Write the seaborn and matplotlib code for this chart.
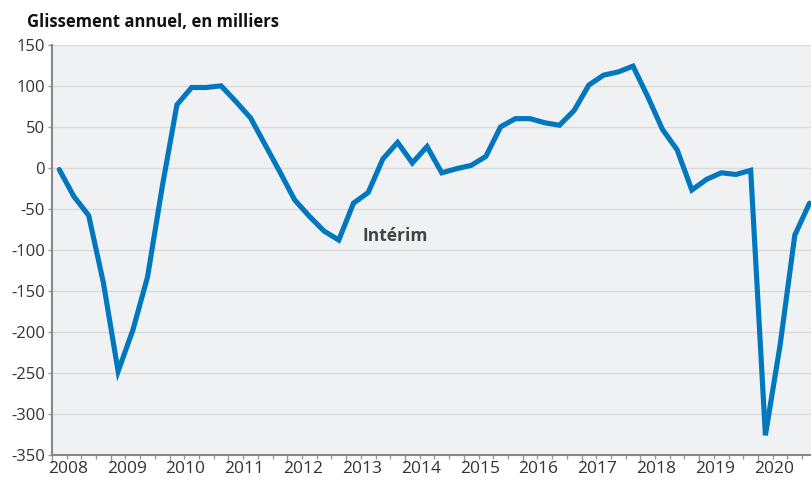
import matplotlib
matplotlib.use("Agg")
import matplotlib.pyplot as plt
import matplotlib.transforms as mtransforms
import numpy as np
import pandas as pd
import seaborn as sns

# quarterly annual change of interim employment, thousands (2008 Q1 .. 2020 Q4)
values = [-2, -35, -58, -140, -248, -198, -133, -23,
          77, 98, 98, 100, 81, 61, 28, -5,
          -39, -59, -77, -88, -43, -30, 11, 31,
          6, 26, -6, -1, 3, 14, 50, 60,
          60, 55, 52, 70, 101, 113, 117, 124,
          87, 47, 22, -27, -14, -6, -8, -3,
          -326, -216, -82, -43]
years = list(range(2008, 2021))
year_labels = [str(y) for y in years]
y_ticks = [150, 100, 50, 0, -50, -100, -150, -200, -250, -300, -350]

quarters = pd.period_range("2008Q1", periods=len(values), freq="Q")
df = pd.DataFrame({
    "x": quarters.year + (quarters.quarter - 0.5) / 4,
    "value": values,
})

sns.set_theme(style="white")
plt.rcParams["font.family"] = ["Open Sans", "DejaVu Sans"]

fig = plt.figure(figsize=(8.11, 4.82), dpi=100)
ax = fig.add_axes([0.064, 0.056, 0.936, 0.851])
ax.set_facecolor("#f0f1f3")

sns.lineplot(data=df, x="x", y="value", ax=ax, color="#0077bf", linewidth=3.7,
             solid_joinstyle="miter", solid_capstyle="round")

ax.set_xlim(2008, 2020.9)
ax.set_ylim(-350, 150)
ax.set_yticks(y_ticks)
ax.set_yticklabels([str(v) for v in y_ticks])
ax.yaxis.grid(True, color="#d9dadc", linewidth=1)
ax.set_axisbelow(True)

ax.set_xticks(years)
ax.set_xticklabels([])
ax.set_xticks(np.arange(2008, 2021, 0.25), minor=True)
ax.tick_params(axis="x", which="major", length=6, width=1, color="#999999", direction="out")
ax.tick_params(axis="x", which="minor", length=3, width=1, color="#999999", direction="out")
ax.tick_params(axis="y", length=3, width=1, color="#999999", labelsize=12, labelcolor="#333333", pad=2)
ax.tick_params(axis="both", bottom=True, left=True, which="both")
ax.tick_params(axis="y", which="minor", left=False)

trans = mtransforms.blended_transform_factory(ax.transData, ax.transAxes)
for y, lab in zip(years, year_labels):
    ax.text(y + 0.27, -0.035, lab, transform=trans, ha="center", va="center",
            fontsize=12.5, color="#333333")

for s in ["top", "right"]:
    ax.spines[s].set_visible(False)
for s in ["left", "bottom"]:
    ax.spines[s].set_color("#888888")
    ax.spines[s].set_linewidth(1.5)

ax.set_xlabel("")
ax.set_ylabel("")

ax.text(2013.83, -83, "Intérim", fontsize=12.5, fontweight="bold", color="#444444",
        ha="center", va="center")
fig.text(0.033, 0.955, "Glissement annuel, en milliers", fontsize=12,
         fontweight="bold", color="#111111", ha="left", va="center")

fig.savefig("out.png", dpi=100)
